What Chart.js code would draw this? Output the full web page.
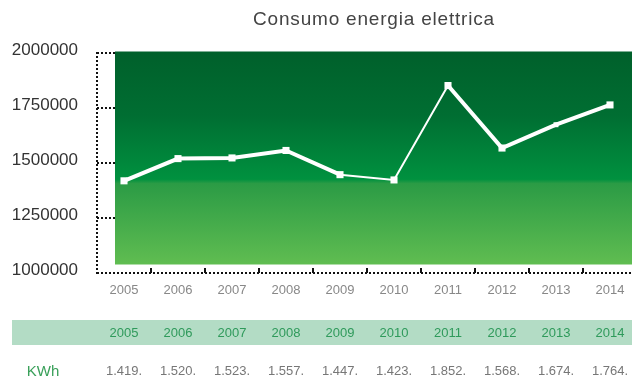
<!DOCTYPE html>
<html>
<head>
<meta charset="utf-8">
<title>Consumo energia elettrica</title>
<script src="https://cdn.jsdelivr.net/npm/chart.js@4.4.1/dist/chart.umd.min.js"></script>
<style>
    html, body { margin: 0; padding: 0; background: #fff; overflow: hidden; }
    #wrap { position: relative; width: 642px; height: 376px; }
    #title {
        position: absolute; left: 0; top: 8px; width: 748px;
        text-align: center; color: #444; letter-spacing: 0.8px;
        font: 19px "Liberation Sans", Arial, sans-serif;
    }
    canvas { display: block; }
</style>
</head>
<body>
<div id="wrap">
    <div id="title">Consumo energia elettrica</div>
    <canvas id="energyChart" width="642" height="376"></canvas>
</div>

<script>
// Yearly electricity use (kWh)
const years = ["2005", "2006", "2007", "2008", "2009", "2010", "2011", "2012", "2013", "2014"];
const kwh = [1419000, 1520000, 1523000, 1557000, 1447000, 1423000, 1852000, 1568000, 1674000, 1764000];
const yTicks = [1000000, 1250000, 1500000, 1750000, 2000000];
const thinSegments = [4, 5]; // 2009-2010 and 2010-2011 use the thin stroke
const markerSizes = [5, 5, 5, 5, 5, 5, 5, 5, 3.5, 5];

const FONT = '"Liberation Sans", Arial, sans-serif';

// "1.419." style labels for the table row
function shortKwh(v) {
    const millions = Math.floor(v / 1000000);
    const thousands = Math.floor(v / 1000) % 1000;
    return millions + "." + String(thousands).padStart(3, "0") + ".";
}

// Green panel behind the line, dotted left axis, small marks on the bottom axis
const panelPlugin = {
    id: "panel",
    beforeDatasetsDraw(chart) {
        const { ctx, chartArea, scales } = chart;
        const left = chartArea.left + 18;
        const top = chartArea.top - 1.5;
        const bottom = chartArea.bottom - 8.5;
        const grad = ctx.createLinearGradient(0, top, 0, bottom);
        grad.addColorStop(0, "#00602b");
        grad.addColorStop(0.3, "#006e32");
        grad.addColorStop(0.6, "#00913f");
        grad.addColorStop(0.62, "#2b9b45");
        grad.addColorStop(1, "#60bd51");
        ctx.save();
        ctx.fillStyle = grad;
        ctx.fillRect(left, top, chartArea.right - left, bottom - top);

        ctx.strokeStyle = "#111";
        ctx.lineWidth = 2;

        // left axis
        ctx.setLineDash([2, 2]);
        ctx.beginPath();
        ctx.moveTo(chartArea.left, chartArea.top - 1);
        ctx.lineTo(chartArea.left, chartArea.bottom + 1);
        ctx.stroke();
        ctx.setLineDash([]);

        // category boundary marks
        for (let i = 1; i < years.length; i++) {
            const x = (scales.x.getPixelForValue(i - 1) + scales.x.getPixelForValue(i)) / 2;
            ctx.beginPath();
            ctx.moveTo(x, chartArea.bottom - 5);
            ctx.lineTo(x, chartArea.bottom);
            ctx.stroke();
        }
        ctx.restore();
    }
};

// Year / kWh table under the chart, aligned to the x scale
const tablePlugin = {
    id: "kwhTable",
    afterDraw(chart) {
        const { ctx, scales } = chart;
        ctx.save();
        ctx.fillStyle = "#b3dcc5";
        ctx.fillRect(12, 320, chart.width - 12, 25);

        ctx.textAlign = "center";
        ctx.textBaseline = "middle";
        ctx.font = "13px " + FONT;
        ctx.fillStyle = "#2f9a5b";
        years.forEach((y, i) => ctx.fillText(y, scales.x.getPixelForValue(i), 333));

        ctx.fillStyle = "#777";
        kwh.forEach((v, i) => ctx.fillText(shortKwh(v), scales.x.getPixelForValue(i), 371));

        ctx.font = "15px " + FONT;
        ctx.fillStyle = "#3aa05a";
        ctx.fillText("KWh", 43, 372);
        ctx.restore();
    }
};

new Chart(document.getElementById("energyChart"), {
    type: "line",
    data: {
        labels: years,
        datasets: [{
            data: kwh,
            borderColor: "#fff",
            borderWidth: 4,
            tension: 0,
            pointStyle: "rect",
            pointRadius: markerSizes,
            pointBackgroundColor: "#fff",
            pointBorderWidth: 0,
            segment: {
                borderWidth: c => thinSegments.includes(c.p0DataIndex) ? 2 : 4
            }
        }]
    },
    options: {
        responsive: false,
        animation: false,
        layout: { padding: { top: 53, right: 3, left: 0, bottom: 0 } },
        plugins: {
            legend: { display: false },
            tooltip: { enabled: false },
            title: { display: false }
        },
        scales: {
            x: {
                offset: true,
                grid: { display: false },
                border: { display: false },
                ticks: {
                    padding: 2,
                    color: "#888",
                    font: { family: FONT, size: 13 }
                },
                afterFit(scale) { scale.height = 103; }
            },
            y: {
                min: 1000000,
                max: 2000000,
                afterBuildTicks(scale) {
                    scale.ticks = yTicks.map(v => ({ value: v }));
                },
                grid: {
                    drawTicks: false,
                    color: "#111",
                    lineWidth: 2
                },
                // dash here styles the grid lines; the axis line itself is drawn by the plugin
                border: { display: false, dash: [2, 2] },
                ticks: {
                    padding: 19,
                    labelOffset: -3,
                    color: "#333",
                    font: { family: FONT, size: 17 },
                    callback: v => String(v)
                },
                afterFit(scale) { scale.width = 97; }
            }
        }
    },
    plugins: [panelPlugin, tablePlugin]
});
</script>
</body>
</html>
